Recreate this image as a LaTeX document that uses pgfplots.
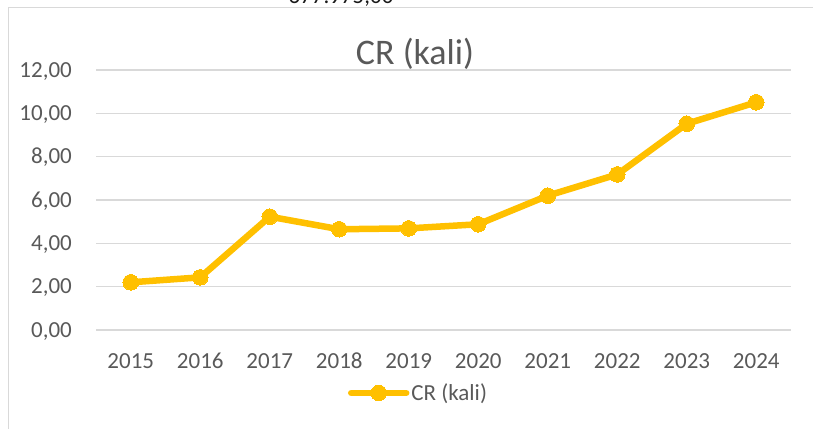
\documentclass[border=0pt]{standalone}
\usepackage{pgfplots}
\pgfplotsset{compat=1.18}
\usepackage{fontspec}
\setmainfont{Carlito}
\definecolor{gold}{HTML}{FFC000}
\definecolor{txt}{HTML}{595959}
\definecolor{gridc}{HTML}{D9D9D9}
\begin{document}
\begin{tikzpicture}
\path[use as bounding box] (0pt,0pt) rectangle (813pt,428pt);
\draw[gridc, line width=1.5pt] (8.5pt,-5pt) -- (8.5pt,420.5pt) -- (820pt,420.5pt);
\node[anchor=base, inner sep=0pt, font=\fontsize{23}{27}\selectfont, text=black!90] at (341pt,424pt) {677.975,00};
\node[anchor=base, inner sep=0pt, font=\fontsize{36}{40}\selectfont, text=txt] at (415pt,363pt) {CR (kali)};
\begin{axis}[
  at={(96pt,98pt)}, anchor=south west,
  width=695pt, height=260pt, scale only axis,
  xmin=-0.5, xmax=9.5, ymin=0, ymax=12,
  xtick={0,...,9},
  xticklabels={2015,2016,2017,2018,2019,2020,2021,2022,2023,2024},
  ytick={0,2,4,6,8,10,12},
  yticklabels={{0,00},{2,00},{4,00},{6,00},{8,00},{10,00},{12,00}},
  axis line style={draw=none},
  major tick length=0pt,
  ymajorgrids,
  major grid style={gridc, line width=1.3pt},
  tick label style={font=\fontsize{23}{27}\selectfont, text=txt, inner sep=0pt},
  yticklabel style={anchor=base east, xshift=-24pt, yshift=-7.3pt},
  xticklabel style={anchor=base, yshift=-39pt},
  legend style={at={(0.464,-0.242)}, anchor=center, draw=none, fill=none,
    inner sep=0pt, font=\fontsize{23}{27}\selectfont, text=txt,
    nodes={inner sep=2pt}},
  legend cell align=left,
  legend image code/.code={\draw[#1, mark repeat=2, mark phase=2] plot coordinates {(0pt,0pt) (27.5pt,0pt) (55pt,0pt)};},
]
\addplot[gold, line width=6.5pt, line cap=round, line join=round,
  mark=*, mark size=7.8pt, mark options={fill=gold, draw=gold, line width=0pt}]
  coordinates {(0,2.20) (1,2.43) (2,5.23) (3,4.65) (4,4.69) (5,4.88) (6,6.20) (7,7.18) (8,9.52) (9,10.51)};
\addlegendentry{CR (kali)}
\end{axis}
\end{tikzpicture}
\end{document}
